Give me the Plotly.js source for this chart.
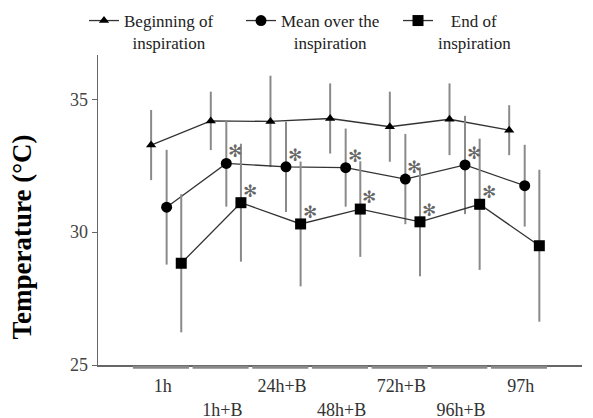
<!DOCTYPE html>
<html>
<head>
<meta charset="utf-8">
<script src="https://cdn.plot.ly/plotly-3.0.1.min.js"></script>
<style>html,body{margin:0;padding:0;background:#fff;}#chart{width:593px;height:418px;}</style>
</head>
<body>
<div id="chart"></div>
<script>
// Categories (time points)
const categories = ["1h", "1h+B", "24h+B", "48h+B", "72h+B", "96h+B", "97h"];
// Series values (°C)
const beginning = [33.28, 34.19, 34.17, 34.28, 33.97, 34.25, 33.84];
const beginningSD = [1.32, 1.10, 1.72, 1.32, 1.32, 1.35, 0.94];
const meanInsp = [30.94, 32.59, 32.46, 32.43, 32.00, 32.53, 31.75];
const meanInspSD = [2.16, 1.63, 1.70, 1.47, 1.70, 1.85, 1.54];
const endInsp = [28.83, 31.11, 30.31, 30.87, 30.39, 31.05, 29.49];
const endInspSD = [2.60, 2.22, 2.35, 1.80, 2.05, 2.47, 2.86];
// significance flags (asterisks)
const meanSig = [false, true, true, true, true, true, false];
const endSig = [false, true, true, true, true, true, false];
const yTicks = [25, 30, 35];

const idx = categories.map((c, i) => i);
const off = {b: -0.26, m: 0, e: 0.245};
const serif = "Liberation Serif, Times New Roman, serif";

function trace(name, vals, sd, dx, symbol, size) {
  return {
    type: "scatter", mode: "lines+markers", name: name,
    x: idx.map(i => i + dx), y: vals,
    line: {color: "#333", width: 1.3},
    marker: {symbol: symbol, size: size, color: "#000"},
    error_y: {type: "data", array: sd, visible: true, color: "#8a8a8a", thickness: 2, width: 0}
  };
}

const data = [
  trace("Beginning of<br>&nbsp;&nbsp;inspiration", beginning, beginningSD, off.b, "triangle-up", 9),
  trace("Mean over the<br>&nbsp;&nbsp;&nbsp;inspiration", meanInsp, meanInspSD, off.m, "circle", 11),
  trace("&nbsp;&nbsp;&nbsp;End of<br>inspiration", endInsp, endInspSD, off.e, "square", 11)
];

const annotations = [];
function addStars(vals, flags, dx) {
  vals.forEach((v, i) => {
    if (!flags[i]) return;
    annotations.push({
      xref: "x", yref: "y", x: i + dx, y: v, text: "✻",
      showarrow: false, xanchor: "center", yanchor: "middle",
      xshift: 9, yshift: 12,
      font: {family: "DejaVu Sans", size: 17, color: "#666"}
    });
  });
}
addStars(meanInsp, meanSig, off.m);
addStars(endInsp, endSig, off.e);

const shapes = idx.map(i => ({
  type: "line", xref: "x", yref: "paper",
  x0: i - 0.565, x1: i + 0.374, y0: -0.007, y1: -0.007,
  line: {color: "#888", width: 3}
}));

const layout = {
  width: 593, height: 418,
  margin: {l: 98, r: 11, t: 55, b: 53, autoexpand: false},
  paper_bgcolor: "#fff", plot_bgcolor: "#fff",
  font: {family: serif, color: "#222"},
  showlegend: true,
  legend: {
    orientation: "h", x: (84 - 98) / 484, xanchor: "left", xref: "paper",
    y: (365 - 3) / 310, yref: "paper", yanchor: "top",
    entrywidth: 112, entrywidthmode: "pixels",
    valign: "top", font: {family: serif, size: 17, color: "#222"},
    bgcolor: "rgba(0,0,0,0)", traceorder: "normal"
  },
  xaxis: {
    range: [-1.15, 6.96], showgrid: false, zeroline: false,
    showline: true, linecolor: "#666", linewidth: 1.5,
    tickmode: "array",
    tickvals: idx.map(i => i - 0.067),
    ticktext: categories.map((c, i) => i % 2 === 1 ? "<br>" + c : c),
    ticks: "outside", ticklen: 4, tickcolor: "rgba(0,0,0,0)",
    tickfont: {family: serif, size: 18, color: "#333"}
  },
  yaxis: {
    range: [25, 36.67], showgrid: false, zeroline: false,
    showline: true, linecolor: "#666", linewidth: 1.5,
    tickmode: "array", tickvals: yTicks, ticktext: yTicks.map(String),
    ticks: "outside", ticklen: 5, tickcolor: "#666",
    tickfont: {family: serif, size: 18, color: "#444"},
    title: {text: "<b>Temperature (°C)</b>" + "&nbsp;".repeat(8), font: {family: serif, size: 27, color: "#000"}, standoff: 30}
  },
  shapes: shapes,
  annotations: annotations
};

Plotly.newPlot("chart", data, layout, {displayModeBar: false, staticPlot: true});
</script>
</body>
</html>
